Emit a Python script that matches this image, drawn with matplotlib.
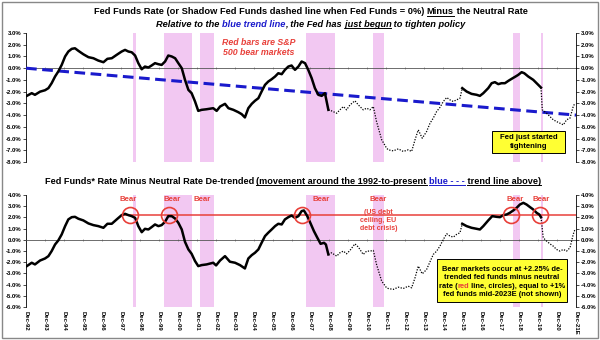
import numpy as np
import matplotlib
matplotlib.use("Agg")
import matplotlib.pyplot as plt
from matplotlib.lines import Line2D
from matplotlib.patches import Rectangle
from matplotlib.ticker import FuncFormatter

FONT = ["Liberation Sans", "DejaVu Sans"]
plt.rcParams["font.family"] = FONT

# Fed funds (or shadow rate) minus neutral rate, decimal years
top_years = [1992.96, 1993.22, 1993.39, 1993.66, 1993.92, 1994.10, 1994.27, 1994.45, 1994.62, 1994.80,
             1994.98, 1995.15, 1995.33, 1995.50, 1995.68, 1995.94, 1996.21, 1996.47, 1996.73, 1997.00,
             1997.21, 1997.44, 1997.70, 1997.96, 1998.14, 1998.32, 1998.49, 1998.67, 1998.84, 1999.02,
             1999.19, 1999.37, 1999.54, 1999.72, 1999.90, 2000.07, 2000.25, 2000.42, 2000.60, 2000.78,
             2000.95, 2001.13, 2001.30, 2001.48, 2001.65, 2001.83, 2002.00, 2002.18, 2002.44, 2002.79,
             2002.97, 2003.15, 2003.41, 2003.59, 2003.85, 2004.11, 2004.29, 2004.46, 2004.64, 2004.82,
             2004.99, 2005.17, 2005.34, 2005.52, 2005.69, 2005.87, 2006.05, 2006.22, 2006.40, 2006.57,
             2006.75, 2006.92, 2007.10, 2007.28, 2007.45, 2007.63, 2007.80, 2007.98, 2008.15, 2008.33,
             2008.51, 2008.68, 2008.86, 2009.03, 2009.30, 2009.47, 2009.65, 2009.82, 2010.00, 2010.26,
             2010.44, 2010.70, 2010.88, 2011.05, 2011.23, 2011.40, 2011.67, 2011.93, 2012.02, 2012.28,
             2012.55, 2012.81, 2013.07, 2013.25, 2013.43, 2013.60, 2013.81, 2014.04, 2014.22, 2014.39,
             2014.57, 2014.74, 2014.92, 2015.10, 2015.27, 2015.45, 2015.62, 2015.80, 2015.92, 2016.15,
             2016.41, 2016.68, 2016.85, 2017.03, 2017.29, 2017.47, 2017.64, 2017.82, 2017.99, 2018.17,
             2018.35, 2018.52, 2018.73, 2018.87, 2019.05, 2019.19, 2019.40, 2019.66, 2019.89, 2020.07,
             2020.14, 2020.37, 2020.54, 2020.72, 2020.89, 2021.07, 2021.25, 2021.42, 2021.60, 2021.77,
             2021.86]
top_vals = [-2.36, -2.13, -2.27, -2.00, -1.88, -1.70, -1.28, -0.71, -0.28, 0.28,
            1.00, 1.42, 1.65, 1.70, 1.48, 1.19, 0.94, 0.85, 0.65, 0.51,
            0.80, 0.85, 1.14, 1.42, 1.56, 1.42, 1.36, 1.08, 0.43, -0.09,
            0.14, 0.06, 0.23, 0.43, 0.34, 0.28, 0.57, 1.08, 1.00, 0.85,
            0.43, 0.00, -0.99, -1.85, -2.13, -2.84, -3.64, -3.55, -3.50, -3.41,
            -3.64, -3.27, -3.04, -3.41, -3.55, -3.75, -3.92, -4.20, -3.41, -3.04,
            -2.78, -2.56, -1.99, -1.42, -1.14, -0.94, -0.71, -0.43, -0.51, -0.14,
            0.14, 0.23, -0.14, 0.14, 0.57, 0.43, -0.14, -0.85, -1.70, -2.27,
            -2.36, -2.13, -3.55, -3.64, -3.84, -3.55, -3.27, -3.55, -3.13, -2.78,
            -3.13, -3.55, -3.41, -3.55, -3.27, -4.55, -6.10, -6.82, -6.96, -7.05,
            -6.88, -7.10, -6.96, -7.10, -6.10, -5.26, -5.97, -5.40, -4.69, -4.26,
            -3.69, -3.35, -2.84, -2.50, -2.70, -2.84, -2.70, -2.56, -1.70, -1.99,
            -2.19, -2.27, -2.36, -2.13, -1.70, -1.28, -1.19, -1.36, -1.28, -1.28,
            -1.08, -0.91, -0.71, -0.57, -0.34, -0.43, -0.71, -0.99, -1.36, -1.65,
            -3.55, -3.84, -4.12, -4.40, -4.55, -4.69, -4.83, -4.40, -4.26, -3.27,
            -2.98]

# 1992-to-present trend line (start, end)
trend_years = [1992.92, 2021.92]
trend_vals = [0.0, -4.0]

# De-trended series
bot_years = [1992.96, 1993.22, 1993.39, 1993.66, 1993.92, 1994.10, 1994.27, 1994.45, 1994.62, 1994.80,
             1994.98, 1995.15, 1995.33, 1995.50, 1995.68, 1995.94, 1996.21, 1996.47, 1996.73, 1997.00,
             1997.21, 1997.44, 1997.70, 1997.96, 1998.14, 1998.32, 1998.49, 1998.67, 1998.84, 1999.02,
             1999.19, 1999.37, 1999.54, 1999.72, 1999.90, 2000.07, 2000.25, 2000.42, 2000.60, 2000.78,
             2000.95, 2001.13, 2001.30, 2001.48, 2001.65, 2001.83, 2002.00, 2002.18, 2002.44, 2002.79,
             2002.94, 2003.15, 2003.41, 2003.67, 2003.94, 2004.20, 2004.46, 2004.64, 2004.82, 2004.99,
             2005.17, 2005.34, 2005.52, 2005.69, 2005.87, 2006.05, 2006.22, 2006.40, 2006.57, 2006.75,
             2006.92, 2007.10, 2007.28, 2007.45, 2007.57, 2007.75, 2007.93, 2008.10, 2008.28, 2008.45,
             2008.63, 2008.73, 2008.86, 2009.03, 2009.30, 2009.47, 2009.65, 2009.82, 2010.00, 2010.26,
             2010.44, 2010.70, 2010.88, 2011.05, 2011.23, 2011.40, 2011.67, 2011.93, 2012.02, 2012.28,
             2012.55, 2012.81, 2013.07, 2013.25, 2013.43, 2013.60, 2013.81, 2014.04, 2014.22, 2014.39,
             2014.57, 2014.74, 2014.92, 2015.10, 2015.27, 2015.45, 2015.62, 2015.80, 2015.92, 2016.15,
             2016.41, 2016.68, 2016.85, 2017.03, 2017.29, 2017.50, 2017.73, 2017.91, 2018.08, 2018.26,
             2018.43, 2018.61, 2018.79, 2018.96, 2019.14, 2019.31, 2019.49, 2019.66, 2019.84, 2019.98,
             2020.07, 2020.19, 2020.37, 2020.54, 2020.72, 2020.89, 2021.07, 2021.25, 2021.42, 2021.60,
             2021.77, 2021.86]
bot_vals = [-2.35, -2.05, -2.20, -1.85, -1.67, -1.46, -1.01, -0.42, -0.06, 0.48,
            1.22, 1.82, 2.02, 2.05, 1.88, 1.73, 1.46, 1.31, 1.22, 1.07,
            1.43, 1.43, 1.82, 2.20, 2.32, 2.20, 2.11, 1.96, 1.22, 0.68,
            0.98, 0.92, 1.13, 1.37, 1.22, 1.31, 1.61, 2.11, 2.11, 1.90,
            1.52, 0.92, -0.18, -0.86, -1.25, -1.90, -2.35, -2.26, -2.20, -2.05,
            -2.29, -1.85, -1.46, -1.96, -2.05, -2.26, -2.56, -1.67, -1.37, -1.16,
            -0.86, -0.27, 0.33, 0.63, 0.92, 1.22, 1.43, 1.37, 1.82, 2.02,
            2.17, 1.96, 2.11, 2.56, 2.62, 2.11, 1.43, 0.77, 0.18, -0.36,
            -0.27, -0.42, -1.31, -1.16, -1.46, -1.16, -1.01, -1.25, -0.95, -0.36,
            -0.65, -1.31, -1.01, -1.01, -0.95, -2.20, -3.69, -4.29, -4.35, -4.43,
            -4.23, -4.35, -4.14, -4.29, -3.39, -2.35, -3.04, -2.65, -1.96, -1.31,
            -1.01, -0.57, 0.03, 0.54, 0.33, 0.24, 0.48, 0.63, 1.43, 1.22,
            1.07, 0.98, 0.92, 1.22, 1.73, 2.11, 2.05, 2.02, 2.20, 2.26,
            2.41, 2.62, 2.86, 3.15, 3.30, 3.15, 2.92, 2.71, 2.41, 2.26,
            2.02, 0.18, -0.12, -0.36, -0.57, -0.86, -1.01, -0.86, -1.01, -0.71,
            0.48, 0.92]

# periods drawn solid (actual fed funds > 0); the rest is the shadow rate, dotted
solid_periods = [(1992.0, 2008.86), (2015.92, 2020.07)]
shadow_periods = [(2008.86, 2015.92), (2020.07, 2022.0)]

# S&P 500 bear markets
bear_periods = [(1998.56, 1998.72), (2000.20, 2001.67), (2002.10, 2002.83), (2007.70, 2009.20),
                (2011.20, 2011.80), (2018.60, 2018.96), (2020.05, 2020.20)]

bear_line = 2.25
bear_line_start = 1998.0
circle_years = [1998.40, 2000.47, 2007.49, 2018.49, 2020.00]
bear_label_years = [1998.3, 2000.6, 2002.2, 2008.5, 2011.5, 2018.7, 2020.1]

tick_years = list(range(1992, 2022))
tick_labels = ["Dec-%02d" % (y % 100) for y in tick_years[:-1]] + ["Dec-21E"]

RED = "#e8403a"
BLUE = "#1a1acc"
PINK = "#f2c8f2"
YELLOW = "#ffff33"
XMIN, XMAX = 1992.917, 2021.917

fig = plt.figure(figsize=(6, 3.4), dpi=100)
ax1 = fig.add_axes([0.0433, 0.5235, 0.9167, 0.3794])
ax2 = fig.add_axes([0.0433, 0.0971, 0.9167, 0.3294])

pct = FuncFormatter(lambda v, p: "%.1f%%" % v)


def draw_series(ax, years, vals):
    years = np.asarray(years)
    vals = np.asarray(vals)
    for a, b in solid_periods:
        m = (years >= a) & (years <= b)
        ax.plot(years[m], vals[m], color="black", lw=1.8, solid_joinstyle="round", zorder=4)
    for a, b in shadow_periods:
        m = (years >= a) & (years <= b)
        ax.plot(years[m], vals[m], color="black", lw=0.9, ls=(0, (1, 1.2)), zorder=4)


def style_axes(ax, lo, hi, show_labels):
    ax.set_xlim(XMIN, XMAX)
    ax.set_ylim(lo, hi)
    for a, b in bear_periods:
        ax.axvspan(a, b, color=PINK, lw=0, zorder=1)
    ax.spines["top"].set_visible(False)
    ax.spines["right"].set_visible(False)
    ax.spines["left"].set_linewidth(0.6)
    ax.spines["bottom"].set_position(("data", 0))
    ax.spines["bottom"].set_color("#555555")
    ax.spines["bottom"].set_linewidth(0.6)
    ax.set_xticks([y + 11 / 12 for y in tick_years])
    ax.tick_params(axis="x", length=2, width=0.5, color="#777777", direction="inout", labelbottom=False)
    ax.set_yticks(np.arange(lo, hi + 0.1, 1.0))
    ax.yaxis.set_major_formatter(pct)
    ax.tick_params(axis="y", length=2, width=0.5, labelsize=4.3, pad=1.5)
    for lab in ax.get_yticklabels():
        lab.set_fontweight("bold")
    rt = ax.twinx()
    rt.set_ylim(lo, hi)
    rt.set_yticks(np.arange(lo, hi + 0.1, 1.0))
    rt.yaxis.set_major_formatter(pct)
    rt.tick_params(axis="y", length=2, width=0.5, labelsize=4.3, pad=1.5)
    for lab in rt.get_yticklabels():
        lab.set_fontweight("bold")
    for s in ["top", "left", "bottom"]:
        rt.spines[s].set_visible(False)
    rt.spines["right"].set_linewidth(0.6)
    if show_labels:
        sec = ax.secondary_xaxis(0.0)
        sec.set_xticks([y + 11 / 12 for y in tick_years])
        sec.set_xticklabels(tick_labels, rotation=-90, fontsize=4.3, fontweight="bold")
        sec.tick_params(length=0, pad=3)
        sec.spines["bottom"].set_visible(False)


# top panel
style_axes(ax1, -8, 3, False)
draw_series(ax1, top_years, top_vals)
ax1.plot(trend_years, trend_vals, color=BLUE, lw=2.2, ls=(0, (3.5, 1.8)), zorder=3)
ax1.text(2005.2, 1.76, "Red bars are S&P\n500 bear markets", color=RED, fontsize=6.3,
         fontweight="bold", fontstyle="italic", ha="center", va="center", linespacing=1.15)

# bottom panel
style_axes(ax2, -6, 4, True)
draw_series(ax2, bot_years, bot_vals)
ax2.plot([bear_line_start, XMAX], [bear_line, bear_line], color=RED, lw=1.1, zorder=3)
ax2.plot(circle_years, [bear_line] * len(circle_years), "o", ms=11.5, mfc="none", mec=RED,
         mew=1.2, zorder=5)
for yr in bear_label_years:
    ax2.text(yr, 3.6, "Bear", color=RED, fontsize=5.6, fontweight="semibold", ha="center", va="center")
ax2.text(2011.5, 1.75, "(US debt\nceiling, EU\ndebt crisis)", color=RED, fontsize=5.0,
         fontweight="semibold", ha="center", va="center", linespacing=1.2)

renderer = fig.canvas.get_renderer()


def text_width(s, size, style):
    t = fig.text(0, 0, s + "|", fontsize=size, fontweight="bold", fontstyle=style)
    ref = fig.text(0, 0, "|", fontsize=size, fontweight="bold", fontstyle=style)
    w = t.get_window_extent(renderer).width - ref.get_window_extent(renderer).width
    t.remove()
    ref.remove()
    return w


def rich_line(xc, yb, pieces, size, style="normal"):
    # pieces: (text, color, underline); xc/yb in figure fractions, yb is the baseline
    W, H = fig.bbox.width, fig.bbox.height
    widths = [text_width(s, size, style) for s, c, u in pieces]
    x = xc * W - sum(widths) / 2
    for (s, c, u), w in zip(pieces, widths):
        fig.text(x / W, yb, s, color=c, fontsize=size, fontweight="bold", fontstyle=style,
                 ha="left", va="baseline", zorder=8)
        if u:
            y = yb - 1.3 / H
            x0, x1 = x, x + w
            if s.startswith(" "):
                x0 += text_width(" ", size, style)
            if s.endswith(" "):
                x1 -= text_width(" ", size, style)
            fig.add_artist(Line2D([x0 / W, x1 / W], [y, y], color=c, lw=0.7,
                                  transform=fig.transFigure))
        x += w


rich_line(0.518, 0.958, [("Fed Funds Rate (or Shadow Fed Funds dashed line when Fed Funds = 0%) ", "black", False),
                         ("Minus", "black", True), (" the Neutral Rate", "black", False)], 6.7)
rich_line(0.518, 0.922, [("Relative to the ", "black", False), ("blue trend line", BLUE, False),
                         (", the Fed has ", "black", False), ("just begun", "black", True),
                         (" to tighten policy", "black", False)], 6.7, "italic")
rich_line(0.488, 0.459, [("Fed Funds* Rate Minus Neutral Rate De-trended ", "black", False),
                         ("(movement around the 1992-to-present ", "black", True),
                         ("blue - - -", BLUE, True), (" trend line above)", "black", True)], 6.6)

# note boxes
fig.add_artist(Rectangle((0.820, 0.550), 0.122, 0.064, transform=fig.transFigure,
                         facecolor=YELLOW, edgecolor="black", lw=0.7, zorder=6))
fig.text(0.881, 0.582, "Fed just started\ntightening", fontsize=5.6, fontweight="bold",
         ha="center", va="center", linespacing=1.25, zorder=7)

fig.add_artist(Rectangle((0.728, 0.112), 0.217, 0.126, transform=fig.transFigure,
                         facecolor=YELLOW, edgecolor="black", lw=0.7, zorder=6))
note_lines = [
    [("Bear markets occur at +2.25% de-", "black", False)],
    [("trended fed funds minus neutral", "black", False)],
    [("rate (", "black", False), ("red", RED, False), (" line, circles), equal to +1%", "black", False)],
    [("fed funds mid-2023E (not shown)", "black", False)],
]
for i, pieces in enumerate(note_lines):
    rich_line(0.8365, 0.203 - i * 0.0250, pieces, 5.4)

# outer frame
fig.add_artist(Rectangle((0.004, 0.006), 0.992, 0.988, transform=fig.transFigure,
                         facecolor="none", edgecolor="#888888", lw=1.0))

fig.savefig("out.png", dpi=100)
